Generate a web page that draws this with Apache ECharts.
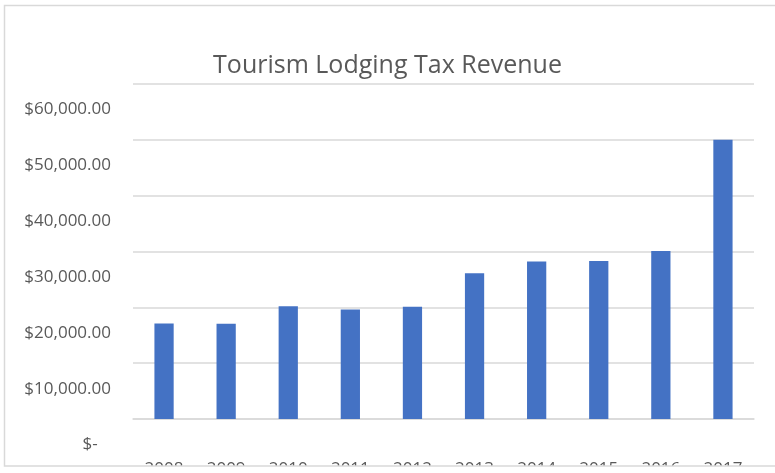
<!DOCTYPE html>
<html>
<head>
<meta charset="utf-8">
<script src="https://cdn.jsdelivr.net/npm/echarts@6/dist/echarts.min.js"></script>
<style>
  html, body { margin: 0; padding: 0; background: #fff; }
  #main { width: 775px; height: 473px; }
</style>
</head>
<body>
<div id="main"></div>
<script>
// data
var years = ['2008', '2009', '2010', '2011', '2012', '2013', '2014', '2015', '2016', '2017'];
var revenue = [17100, 17050, 20200, 19600, 20100, 26100, 28200, 28300, 30100, 50000];
var yTicks = [0, 10000, 20000, 30000, 40000, 50000, 60000];

var myChart = echarts.init(document.getElementById('main'));

function money(v) {
  if (v === 0) return '$-   ';
  return '$' + v.toLocaleString('en-US', { minimumFractionDigits: 2, maximumFractionDigits: 2 });
}

myChart.setOption({
  animation: false,
  title: {
    text: 'Tourism Lodging Tax Revenue',
    left: 'center',
    top: 48,
    textStyle: { color: '#595959', fontFamily: 'Open Sans', fontSize: 25, fontWeight: 'normal' }
  },
  grid: { left: 133, right: 21, top: 84, bottom: 54, outerBoundsMode: 'none', containLabel: false },
  xAxis: {
    type: 'category',
    data: years,
    axisLine: { lineStyle: { color: '#d9d9d9', width: 1.5 } },
    axisTick: { show: false },
    axisLabel: { color: '#595959', fontFamily: 'Open Sans', fontSize: 17, margin: 42 }
  },
  yAxis: {
    type: 'value',
    min: yTicks[0],
    max: yTicks[yTicks.length - 1],
    interval: 10000,
    axisLine: { show: false },
    axisTick: { show: false },
    splitLine: { lineStyle: { color: '#d9d9d9', width: 1.5 } },
    axisLabel: {
      color: '#595959', fontFamily: 'Open Sans', fontSize: 17, margin: 22,
      verticalAlign: 'top', padding: [17, 0, 0, 0],
      formatter: money
    }
  },
  series: [{
    name: 'Revenue',
    type: 'bar',
    barWidth: '31%',
    itemStyle: { color: '#4472c4' },
    data: revenue
  }],
  graphic: [
    { type: 'rect', z: 100, shape: { x: 0, y: 466, width: 775, height: 7 }, style: { fill: '#fff' } },
    { type: 'rect', z: 101, shape: { x: 4.5, y: 5.5, width: 800, height: 460.5 }, style: { fill: null, stroke: '#d9d9d9', lineWidth: 1.5 } }
  ]
});
</script>
</body>
</html>
